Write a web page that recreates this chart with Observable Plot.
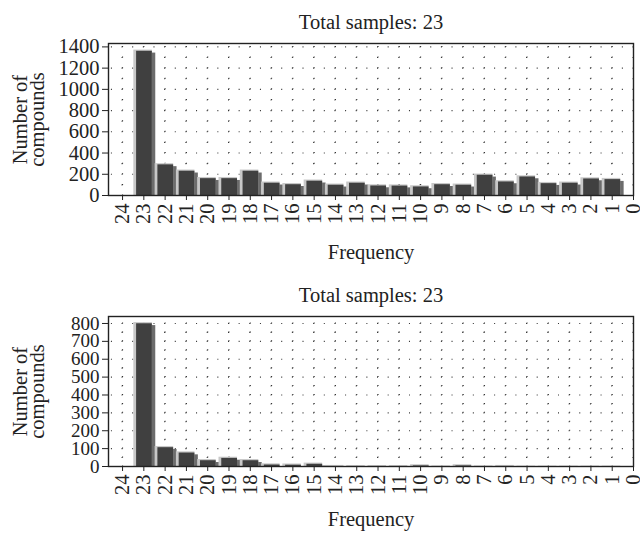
<!DOCTYPE html>
<html><head><meta charset="utf-8">
<script src="https://cdn.jsdelivr.net/npm/d3@7"></script>
<script src="https://cdn.jsdelivr.net/npm/@observablehq/plot@0.6"></script>
<style>body{margin:0;background:#fff} svg{display:block}</style>
</head><body><div id="c"></div>
<script>
const frequencies = [24,23,22,21,20,19,18,17,16,15,14,13,12,11,10,9,8,7,6,5,4,3,2,1,0];
const countsTop =    [0,1370,300,240,170,170,240,127,113,146,108,127,101,100,92,113,108,202,139,186,123,127,167,161,0];
const countsBottom = [0,805,112,82,39,52,39,15,14,19,6,5,5,5,10,3,10,3,6,2,2,2,2,2,0];
const title = "Total samples: 23";
const xLabel = "Frequency";
const yLabel = "Number of\ncompounds";
const yTicksTop = [0,200,400,600,800,1000,1200,1400];
const yGridTop = [100,200,300,400,500,600,700,800,900,1000,1100,1200,1300,1400];
const yTicksBottom = [0,100,200,300,400,500,600,700,800];
const yGridBottom = [50,100,150,200,250,300,350,400,450,500,550,600,650,700,750,800];

const FONT = "Liberation Serif, Times New Roman, serif";
const FS = 20.5;

function chart({counts, yMax, yTicks, yGrid, height, marginTop, marginBottom, labelDy, yFS}) {
  const data = frequencies.map((f, i) => ({f, v: counts[i]})).filter(d => d.v > 0);
  const width = 640, marginLeft = 108, marginRight = 7;
  const step = (width - marginLeft - marginRight) / 24.66;
  const firstTick = 0.66 * step - 0.5;
  const innerH = height - marginTop - marginBottom;
  const vStep = innerH / yMax * (yGrid[1] - yGrid[0]);
  const major = new Set(yTicks);
  return Plot.plot({
    width, height, marginLeft, marginRight, marginTop, marginBottom,
    style: {fontFamily: FONT, fontSize: FS + "px", color: "#222", background: "#fff"},
    x: {domain: [24.66, 0], label: null},
    y: {domain: [0, yMax], label: null},
    marks: [
      Plot.ruleY(yGrid.filter(d => major.has(d)), {stroke: "#333", strokeWidth: 1.1,
        strokeDasharray: `1,${step / 2 - 1}`, strokeDashoffset: step / 2 - (firstTick % (step / 2))}),
      Plot.ruleY(yGrid.filter(d => !major.has(d)), {stroke: "#333", strokeWidth: 1.1,
        strokeDasharray: `1,${step - 1}`, strokeDashoffset: step - firstTick}),
      Plot.ruleX(frequencies.slice(0, 24), {stroke: "#333", strokeWidth: 1.1,
        strokeDasharray: `1,${vStep - 1}`, strokeDashoffset: vStep - ((innerH - 0.5) % vStep)}),
      Plot.rectY(data, {x1: d => d.f - 0.25, x2: d => d.f - 0.56, y: "v", fill: "#6c6c6c", insetTop: 3}),
      Plot.rectY(data, {x1: d => d.f + 0.47, x2: d => d.f - 0.40, y: "v", fill: "#c8c8c8"}),
      Plot.rectY(data, {x1: d => d.f + 0.34, x2: d => d.f - 0.40, y: "v", fill: "#404040", insetTop: 1.2}),
      Plot.frame({stroke: "#222", strokeWidth: 1.4}),
      Plot.axisX({ticks: frequencies, tickFormat: d => String(d), tickRotate: -90, tickSize: 5, tickPadding: 3, label: null, fontSize: FS}),
      Plot.axisY({ticks: yTicks, tickFormat: d => String(d), tickSize: 6, tickPadding: 3, label: null, fontSize: yFS}),
      Plot.text([title], {text: d => d, frameAnchor: "top", lineAnchor: "bottom", dy: -15, fontSize: FS, fill: "#222"}),
      Plot.text([xLabel], {text: d => d, frameAnchor: "bottom", lineAnchor: "bottom", dy: labelDy, fontSize: FS, fill: "#222"}),
      Plot.text([yLabel], {text: d => d, frameAnchor: "left", textAnchor: "middle", rotate: -90, dx: -78, lineHeight: 0.82, fontSize: FS, fill: "#222"})
    ]
  });
}

const c = document.getElementById("c");
c.append(chart({counts: countsTop, yMax: 1432, yTicks: yTicksTop, yGrid: yGridTop, height: 270, marginTop: 43, marginBottom: 75, labelDy: 63, yFS: FS}));
c.append(chart({counts: countsBottom, yMax: 839, yTicks: yTicksBottom, yGrid: yGridBottom, height: 264, marginTop: 46, marginBottom: 68, labelDy: 59, yFS: 19}));
</script>
</body></html>
